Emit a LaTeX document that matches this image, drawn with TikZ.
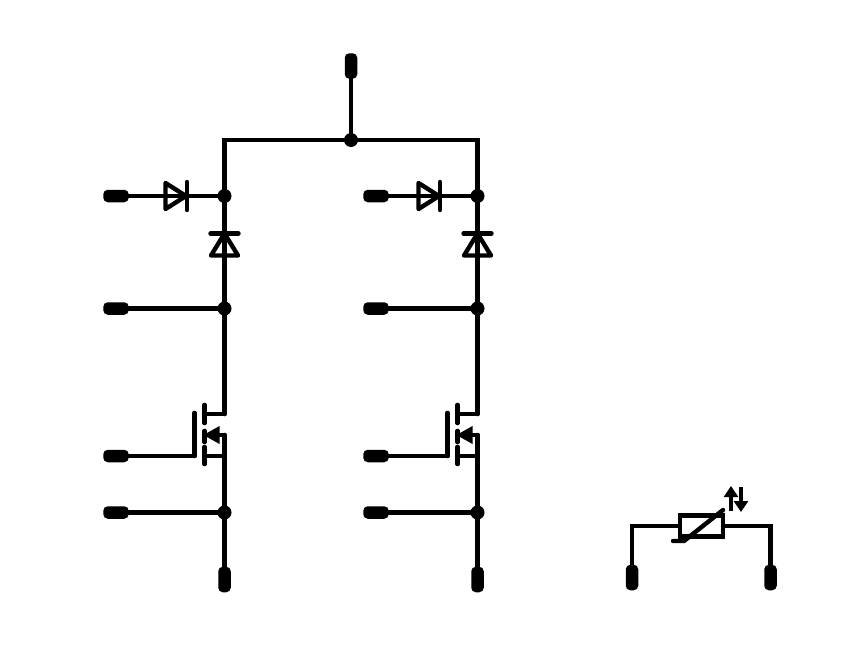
\documentclass[tikz,border=0pt]{standalone}
\usetikzlibrary{arrows.meta,calc}
\tikzset{
  wire/.style={line width=4.6pt,line cap=round,line join=miter},
  sym/.style={line width=4.4pt,line cap=round,line join=miter},
  padh/.style={fill=black,rounded corners=4.5pt,minimum width=25.5pt,minimum height=12.5pt,inner sep=0pt},
  padv/.style={fill=black,rounded corners=4.5pt,minimum width=12.5pt,minimum height=25.5pt,inner sep=0pt},
  dot/.style={circle,fill=black,minimum size=14pt,inner sep=0pt},
  hdiode/.pic={\draw[sym,line join=round] (-10.5,-13)--(10,0)--(-10.5,13)--cycle; \draw[sym] (11,-14)--(11,14);},
  vdiode/.pic={\draw[sym,line join=round] (-13.5,11)--(0,-11)--(13.5,11)--cycle; \draw[sym] (-14,-11)--(14,-11);},
  fet/.pic={
    \draw[wire] (-30,-22)--(-30,21);
    \draw[wire] (-20,-30)--(-20,-12);
    \draw[wire] (-20,-4)--(-20,7);
    \draw[wire] (-20,12)--(-20,29);
    \draw[wire] (-20,-21)--(0,-21);
    \draw[wire] (-20,21)--(0,21);
    \draw[wire] (-20,0)--(0,0);
    \fill (-21,0)--(-5,-9)--(-5,9)--cycle;
  }
}
\begin{document}
\begin{tikzpicture}[x=1pt,y=-1pt]
\useasboundingbox (0,0) rectangle (844,648);
% nodes
\node[padv] (top) at (351,66) {};
\node[dot] (jtop) at (351,140) {};
\coordinate (cornl) at (224.5,140);
\coordinate (cornr) at (477.5,140);
\foreach \n/\xc/\xp in {l/224.5/116,r/477.5/376}{
  \node[dot] (j1\n) at (\xc,196) {};
  \node[dot] (j2\n) at (\xc,308.5) {};
  \node[dot] (j3\n) at (\xc,512.5) {};
  \node[padh] (a\n) at (\xp,196) {};
  \node[padh] (b\n) at (\xp,308.5) {};
  \node[padh] (c\n) at (\xp,456) {};
  \node[padh] (d\n) at (\xp,512.5) {};
  \node[padv] (e\n) at (\xc,579.5) {};
  \coordinate (dr\n) at (\xc,414);
  \coordinate (so\n) at (\xc,435);
  \coordinate (gt\n) at (\xc-30,456);
}
\draw[wire] (top.center)--(jtop.center);
\draw[wire] (jtop.center)--(cornl)--(j1l.center);
\draw[wire] (jtop.center)--(cornr)--(j1r.center);
\foreach \n in {l,r}{
  \draw[wire] (j1\n.center)--(j2\n.center)--(dr\n);
  \draw[wire] (so\n)--(j3\n.center)--(e\n.center);
  \draw[wire] (a\n.center)--(j1\n.center);
  \draw[wire] (b\n.center)--(j2\n.center);
  \draw[wire] (c\n.center)--(gt\n);
  \draw[wire] (d\n.center)--(j3\n.center);
  \path (so\n) pic {fet};
}
\path (176,196) pic {hdiode};
\path (429,196) pic {hdiode};
\path (224.5,244.5) pic {vdiode};
\path (477.5,244.5) pic {vdiode};
% thermistor
\node[padv] (t1) at (632,577.5) {};
\node[padv] (t2) at (770.5,577.5) {};
\node[draw=black,line width=4.4pt,minimum width=43pt,minimum height=21pt,inner sep=0pt] (res) at (701.5,526) {};
\draw[wire] (t1.center)--(t1.center |- res.west)--(res.west);
\draw[wire] (t2.center)--(t2.center |- res.east)--(res.east);
\draw[sym] (673,541)--(684,541)--(723,510);
\draw[line width=4.2pt,-{Triangle[length=11pt,width=14pt]}] (731,511)--(731,486);
\draw[line width=4.2pt,-{Triangle[length=11pt,width=14pt]}] (741,487)--(741,512);
\end{tikzpicture}
\end{document}
